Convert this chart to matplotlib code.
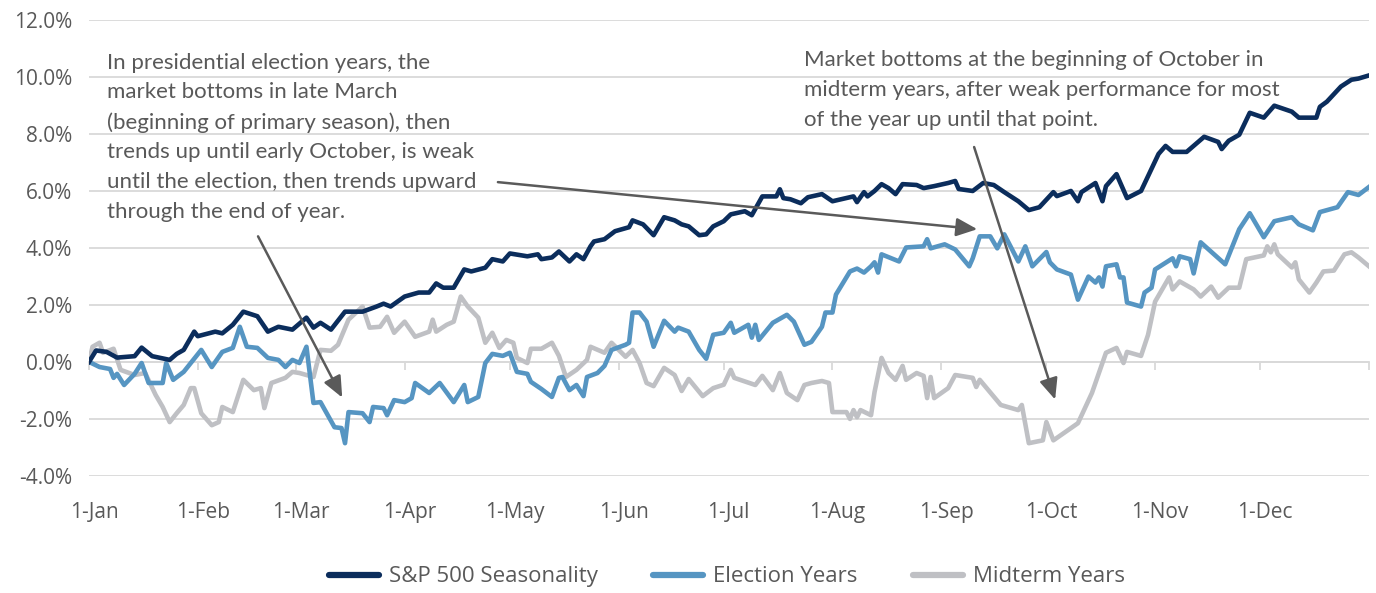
import numpy as np
import matplotlib
matplotlib.use('Agg')
import matplotlib.pyplot as plt
from matplotlib.transforms import ScaledTranslation

plt.rcParams['font.family'] = ['Open Sans', 'DejaVu Sans']

# day of year (0 = 1-Jan) and cumulative return in %
sp_days = [0, 2, 5, 8, 13, 15, 18, 23, 25, 27, 30, 31, 36, 38, 41, 44, 48, 51, 54, 58,
           62, 64, 66, 69, 73, 78, 82, 84, 86, 90, 94, 97, 99, 101, 104, 107, 109, 113, 115, 118,
           120, 125, 128, 129, 132, 134, 137, 139, 141, 143, 144, 147, 150, 154, 155, 158, 161, 164, 167, 169,
           171, 174, 176, 178, 181, 183, 187, 189, 192, 196, 197, 198, 200, 203, 205, 209, 212, 218, 219, 221,
           222, 224, 226, 228, 230, 232, 236, 238, 241, 245, 247, 248, 252, 255, 258, 261, 265, 268, 271, 275,
           276, 280, 282, 283, 287, 289, 290, 293, 296, 300, 305, 307, 309, 313, 318, 322, 323, 325, 328, 331,
           335, 338, 343, 345, 350, 351, 353, 357, 360, 362, 365]
sp_vals = [0.0, 0.4, 0.35, 0.15, 0.2, 0.5, 0.2, 0.07, 0.28, 0.42, 1.06, 0.9, 1.06, 1.0, 1.3, 1.76, 1.6, 1.06, 1.23, 1.13,
           1.55, 1.2, 1.37, 1.13, 1.76, 1.76, 1.94, 2.04, 1.94, 2.29, 2.43, 2.43, 2.75, 2.6, 2.6, 3.24, 3.17, 3.3, 3.6, 3.52,
           3.8, 3.7, 3.77, 3.6, 3.66, 3.87, 3.52, 3.77, 3.6, 4.05, 4.22, 4.3, 4.58, 4.72, 4.96, 4.82, 4.44, 5.07, 4.96, 4.82,
           4.75, 4.44, 4.47, 4.75, 4.93, 5.17, 5.28, 5.14, 5.8, 5.8, 6.05, 5.74, 5.7, 5.56, 5.77, 5.88, 5.63, 5.8, 5.6, 5.95,
           5.8, 5.99, 6.23, 6.09, 5.88, 6.23, 6.2, 6.09, 6.16, 6.27, 6.34, 6.06, 5.99, 6.27, 6.2, 5.95, 5.63, 5.32, 5.42, 5.95,
           5.81, 5.99, 5.63, 5.95, 6.27, 5.63, 6.16, 6.58, 5.74, 5.99, 7.29, 7.57, 7.36, 7.36, 7.89, 7.71, 7.46, 7.75, 7.96, 8.73,
           8.56, 8.98, 8.77, 8.56, 8.56, 8.94, 9.12, 9.65, 9.89, 9.93, 10.04]

el_days = [0, 3, 6, 7, 8, 10, 13, 15, 17, 21, 22, 24, 27, 32, 35, 38, 41, 43, 45, 48,
           51, 54, 56, 58, 60, 62, 64, 66, 70, 72, 73, 74, 78, 80, 81, 84, 85, 87, 90, 92,
           93, 97, 100, 104, 107, 108, 111, 113, 115, 118, 120, 122, 125, 126, 129, 132, 134, 135, 137, 139,
           141, 142, 145, 147, 149, 153, 154, 155, 157, 159, 161, 164, 167, 168, 171, 174, 176, 178, 181, 183,
           184, 188, 189, 190, 191, 195, 199, 201, 204, 206, 209, 210, 212, 213, 217, 219, 221, 223, 224, 225,
           226, 231, 233, 238, 239, 240, 244, 247, 251, 252, 254, 257, 259, 261, 265, 267, 269, 273, 274, 276,
           280, 282, 285, 287, 288, 289, 290, 293, 294, 295, 296, 300, 301, 303, 304, 309, 310, 311, 314, 315,
           317, 324, 328, 331, 335, 338, 343, 345, 349, 351, 356, 359, 362, 365]
el_vals = [0.0, -0.18, -0.25, -0.56, -0.42, -0.81, -0.42, -0.04, -0.74, -0.74,
           -0.04, -0.63, -0.35, 0.42, -0.18, 0.35, 0.49, 1.23, 0.53, 0.49,
           0.14, 0.07, -0.18, 0.07, -0.04, 0.53, -1.44, -1.41, -2.29, -2.32,
           -2.85, -1.76, -1.8, -2.11, -1.58, -1.62, -1.87, -1.34, -1.41, -1.27,
           -0.74, -1.09, -0.74, -1.41, -0.81, -1.41, -1.23, -0.04, 0.28, 0.21,
           0.32, -0.35, -0.42, -0.7, -0.95, -1.23, -0.56, -0.53, -0.99, -0.81,
           -1.2, -0.53, -0.39, -0.14, 0.42, 0.6, 0.67, 1.73, 1.73, 1.41,
           0.53, 1.44, 1.06, 1.2, 1.06, 0.42, 0.11, 0.95, 1.02, 1.37,
           1.02, 1.3, 0.85, 1.3, 0.77, 1.37, 1.65, 1.41, 0.6, 0.7,
           1.23, 1.73, 1.73, 2.36, 3.17, 3.27, 3.13, 3.35, 3.49, 3.13,
           3.77, 3.52, 4.01, 4.05, 4.3, 3.98, 4.12, 3.94, 3.35, 3.63,
           4.4, 4.4, 3.98, 4.47, 3.52, 4.05, 3.35, 3.85, 3.49, 3.24,
           3.06, 2.18, 2.99, 2.78, 2.96, 2.64, 3.35, 3.42, 2.96, 2.96,
           2.08, 1.94, 2.43, 2.6, 3.24, 3.63, 3.35, 3.7, 3.6, 3.1,
           4.19, 3.42, 4.65, 5.21, 4.37, 4.93, 5.07, 4.82, 4.61, 5.25,
           5.42, 5.95, 5.85, 6.13]

mid_days = [0, 1, 3, 4, 7, 9, 13, 16, 19, 21, 23, 25, 27, 29, 30, 32, 35, 37, 38, 41,
            44, 47, 49, 50, 52, 56, 58, 60, 64, 66, 69, 71, 74, 78, 80, 83, 85, 87, 90, 93,
            97, 98, 99, 102, 104, 106, 108, 111, 113, 115, 117, 119, 121, 122, 125, 126, 129, 132, 134, 136,
            139, 142, 143, 147, 149, 153, 155, 157, 159, 161, 164, 167, 169, 171, 175, 178, 181, 183, 184, 190,
            192, 195, 197, 199, 202, 204, 206, 209, 211, 212, 216, 217, 218, 219, 220, 223, 224, 226, 228, 230,
            232, 233, 236, 238, 239, 240, 241, 245, 247, 252, 253, 254, 260, 265, 266, 268, 272, 273, 275, 282,
            286, 288, 290, 293, 295, 296, 300, 302, 304, 308, 309, 311, 315, 317, 320, 322, 325, 328, 330, 335,
            336, 337, 338, 339, 343, 344, 345, 348, 350, 352, 355, 358, 360, 362, 365]
mid_vals = [0.0, 0.53, 0.67, 0.32, 0.46, -0.28, -0.46, -0.39, -1.16, -1.58,
            -2.11, -1.8, -1.51, -0.92, -0.92, -1.8, -2.22, -2.11, -1.58, -1.76,
            -0.63, -0.99, -0.92, -1.62, -0.74, -0.56, -0.35, -0.39, -0.53, 0.42,
            0.39, 0.6, 1.48, 1.94, 1.2, 1.23, 1.58, 1.02, 1.41, 0.88,
            1.06, 1.48, 1.06, 1.3, 1.41, 2.29, 1.94, 1.55, 0.67, 1.02,
            0.49, 0.77, 0.67, 0.14, -0.04, 0.46, 0.46, 0.67, 0.21, -0.53,
            -0.28, 0.07, 0.53, 0.32, 0.67, 0.18, 0.42, -0.04, -0.74, -0.85,
            -0.21, -0.46, -1.02, -0.6, -1.2, -0.92, -0.8, -0.28, -0.56, -0.81,
            -0.49, -0.99, -0.39, -1.09, -1.34, -0.81, -0.74, -0.67, -0.74, -1.76,
            -1.76, -2.0, -1.69, -1.94, -1.69, -1.87, -1.06, 0.14, -0.39, -0.63,
            -0.14, -0.63, -0.39, -0.49, -1.27, -0.53, -1.27, -0.92, -0.46, -0.56,
            -0.88, -0.63, -1.51, -1.69, -1.51, -2.85, -2.75, -2.11, -2.75, -2.15,
            -1.09, -0.39, 0.32, 0.49, -0.04, 0.35, 0.21, 0.95, 2.11, 2.96,
            2.54, 2.82, 2.54, 2.29, 2.64, 2.25, 2.6, 2.6, 3.6, 3.73,
            4.05, 3.84, 4.12, 3.77, 3.31, 3.49, 2.89, 2.43, 2.78, 3.17,
            3.2, 3.77, 3.84, 3.66, 3.35]

month_starts = [0, 31, 59, 90, 120, 151, 181, 212, 243, 273, 304, 334]
month_labels = ['1-Jan', '1-Feb', '1-Mar', '1-Apr', '1-May', '1-Jun',
                '1-Jul', '1-Aug', '1-Sep', '1-Oct', '1-Nov', '1-Dec']

note_left = ("In presidential election years, the\nmarket bottoms in late March\n"
             "(beginning of primary season), then\ntrends up until early October, is weak\n"
             "until the election, then trends upward\nthrough the end of year.")
note_right = ("Market bottoms at the beginning of October in\n"
              "midterm years, after weak performance for most\nof the year up until that point.")

navy = '#0B2D5C'
blue = '#5695C2'
grey = '#BFC0C4'
txt = '#595959'
grid = '#D9D9D9'
fs = 15

fig = plt.figure(figsize=(13.76, 5.93), dpi=100)
ax = fig.add_axes([0.0647, 0.1973, 0.9302, 0.7698])

lw = 3.3
ax.plot(mid_days, mid_vals, color=grey, lw=lw, solid_joinstyle='round', label='Midterm Years', zorder=3)
ax.plot(el_days, el_vals, color=blue, lw=lw, solid_joinstyle='round', label='Election Years', zorder=4)
ax.plot(sp_days, sp_vals, color=navy, lw=lw, solid_joinstyle='round', label='S&P 500 Seasonality', zorder=5)

ax.set_xlim(0, 365)
ax.set_ylim(-4, 12)
ax.set_yticks(np.arange(-4, 13, 2))
ax.set_yticklabels(['%.1f%%' % v for v in np.arange(-4, 13, 2)])
ax.grid(axis='y', color=grid, lw=1.3, zorder=0)
ax.set_axisbelow(True)
for s in ['top', 'right', 'left']:
    ax.spines[s].set_visible(False)
ax.spines['bottom'].set_position(('data', 0))
ax.spines['bottom'].set_color(grid)
ax.spines['bottom'].set_linewidth(1.3)
ax.set_xticks(month_starts + [365])
ax.tick_params(axis='x', direction='out', length=6, width=1.3, color=grid, labelbottom=False)
ax.tick_params(axis='y', length=0, pad=12, labelsize=fs, labelcolor=txt)

# month labels sit at the bottom of the plot, not on the zero line
offs = ax.get_xaxis_transform() + ScaledTranslation(0.05, 0, fig.dpi_scale_trans)
for d, lab in zip(month_starts, month_labels):
    ax.text(d, -0.079, lab, transform=offs, ha='center', va='center', fontsize=fs, color=txt)

ax.text(5.2, 10.84, note_left, ha='left', va='top', fontsize=16, color=txt, linespacing=1.6,
        family=['Lato', 'DejaVu Sans'], zorder=6)
ax.text(204, 10.92, note_right, ha='left', va='top', fontsize=16, color=txt, linespacing=1.6,
        family=['Lato', 'DejaVu Sans'], zorder=6)

arrow = dict(arrowstyle='-|>,head_length=0.8,head_width=0.35', color='#5A5A5A', lw=1.8,
             shrinkA=0, shrinkB=0, mutation_scale=16)
ax.annotate('', xy=(72.2, -1.25), xytext=(48.2, 4.4), arrowprops=arrow, zorder=7)
ax.annotate('', xy=(253.3, 4.65), xytext=(116.6, 6.3), arrowprops=arrow, zorder=7)
ax.annotate('', xy=(275.5, -1.32), xytext=(252.4, 7.53), arrowprops=arrow, zorder=7)

h, l = ax.get_legend_handles_labels()
leg = fig.legend(h[::-1], l[::-1], loc='center', bbox_to_anchor=(0.5284, 0.027), ncol=3,
                 frameon=False, fontsize=16, handlelength=2.25, columnspacing=2.5, handletextpad=0.45)
for t in leg.get_texts():
    t.set_color(txt)
for ln in leg.get_lines():
    ln.set_linewidth(4.5)
    ln.set_solid_capstyle('round')

fig.savefig('out.png', dpi=100)
